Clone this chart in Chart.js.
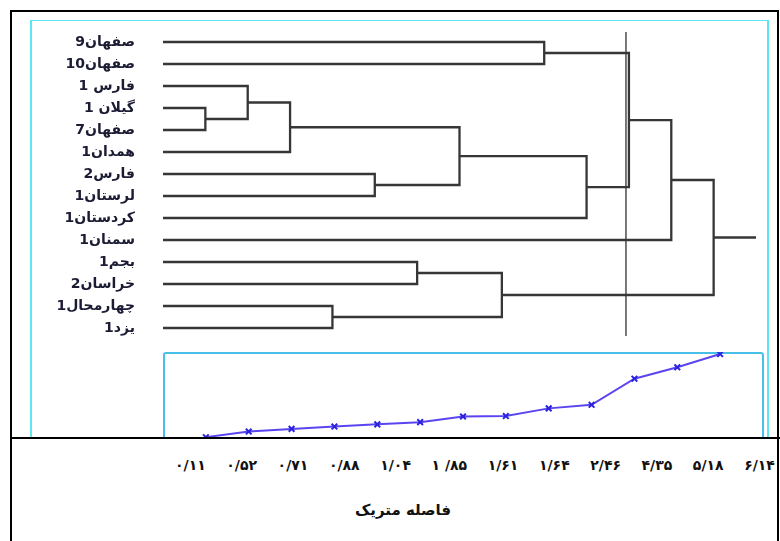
<!DOCTYPE html>
<html lang="fa">
<head>
<meta charset="utf-8">
<script src="https://cdn.jsdelivr.net/npm/chart.js@4.4.1/dist/chart.umd.min.js"></script>
<style>
  html, body { margin: 0; padding: 0; background: #fff; }
  #page { position: relative; width: 780px; height: 541px; overflow: hidden; font-family: "DejaVu Sans", sans-serif; }
  .abs { position: absolute; box-sizing: border-box; }
  #frame { left: 10px; top: 10px; width: 769px; height: 600px; border: 2px solid #000; }
  #hline { left: 10px; top: 437px; width: 770px; height: 2px; background: #000; z-index: 5; }
  #cyan { left: 30px; top: 20px; width: 739px; height: 418px; border: 2px solid #5ee6ef; border-bottom: none; border-top-width: 1.5px; }
  #dendro { left: 31px; top: 10px; }
  #lowclip { left: 0; top: 350px; width: 780px; height: 88px; overflow: hidden; }
  #lowbox { left: 163px; top: 2px; width: 601px; height: 120px; border: 2px solid #48bfe9; border-radius: 3px; }
  #steps { left: 31px; top: 2px; }
  #ticks { left: 175px; top: 457px; width: 600px; display: flex; justify-content: space-between; direction: ltr;
           font-size: 14px; font-weight: bold; color: #111; }
  #title { left: 303px; top: 501px; width: 200px; text-align: center; direction: rtl;
           font-size: 15px; font-weight: bold; color: #111; }
</style>
</head>
<body>
<div id="page">
  <div id="frame" class="abs"></div>
  <div id="cyan" class="abs"></div>
  <canvas id="dendro" class="abs" width="735" height="340"></canvas>
  <div id="lowclip" class="abs">
    <div id="lowbox" class="abs"></div>
    <canvas id="steps" class="abs" width="735" height="86"></canvas>
  </div>
  <div id="hline" class="abs"></div>
  <div id="ticks" class="abs"></div>
  <div id="title" class="abs"></div>
</div>
<script>
// leaves, top to bottom
const leafNames = ['صفهان9', 'صفهان10', 'فارس 1', 'گیلان 1', 'صفهان7', 'همدان1', 'فارس2',
  'لرستان1', 'کردستان1', 'سمنان1', 'بجم1', 'خراسان2', 'چهارمحال1', 'یزد1'];

// merge order: leaves are nodes 0..13, merge k makes node 14 + k
const mergePairs = [[3, 4], [2, 14], [15, 5], [12, 13], [6, 7], [10, 11], [16, 18],
  [19, 17], [0, 1], [20, 8], [22, 23], [24, 9], [25, 21]];

// distance at each merge step (lower plot)
const stepDistances = [0.11, 0.52, 0.71, 0.88, 1.04, 1.2, 1.61, 1.64, 2.2, 2.46, 4.35, 5.18, 6.14];

const distanceTickLabels = ['۰/۱۱', '۰/۵۲', '۰/۷۱', '۰/۸۸', '۱/۰۴', '۱ /۸۵', '۱/۶۱', '۱/۶۴',
  '۲/۴۶', '۴/۳۵', '۵/۱۸', '۶/۱۴'];

const axisTitle = 'فاصله متریک';
const cutStep = 9.93;

// build the bracket polylines
const nodeX = leafNames.map(() => -1);
const nodeY = leafNames.map((_, i) => i);
const links = [];
mergePairs.forEach(([a, b], k) => {
  links.push([
    { x: nodeX[a], y: nodeY[a] }, { x: k, y: nodeY[a] },
    { x: k, y: nodeY[b] }, { x: nodeX[b], y: nodeY[b] }
  ]);
  nodeX.push(k);
  nodeY.push((nodeY[a] + nodeY[b]) / 2);
});
const root = nodeX.length - 1;
links.push([{ x: nodeX[root], y: nodeY[root] }, { x: mergePairs.length, y: nodeY[root] }]);

const linkSets = links.map(pts => ({
  data: pts, showLine: true, borderColor: '#363636', borderWidth: 2.3,
  pointRadius: 0, tension: 0, fill: false
}));
linkSets.push({
  data: [{ x: cutStep, y: -0.45 }, { x: cutStep, y: 13.36 }],
  showLine: true, borderColor: '#666', borderWidth: 1, pointRadius: 0
});

new Chart(document.getElementById('dendro'), {
  type: 'scatter',
  data: { datasets: linkSets },
  options: {
    responsive: false,
    animation: false,
    layout: { autoPadding: false, padding: { top: 10, right: 10, bottom: 0, left: 0 } },
    plugins: { legend: { display: false }, tooltip: { enabled: false } },
    scales: {
      x: { type: 'linear', display: false, min: -1, max: 13 },
      y: {
        type: 'linear', min: -1, max: 14, reverse: true,
        grid: { display: false, drawTicks: false },
        border: { display: false },
        afterBuildTicks: s => { s.ticks = leafNames.map((_, i) => ({ value: i })); },
        afterFit: s => { s.width = 132; s.paddingTop = 0; s.paddingBottom = 0; },
        ticks: {
          padding: 28, autoSkip: false, color: '#1b1b33',
          font: { family: 'DejaVu Sans', size: 14, weight: 'bold' },
          callback: v => leafNames[v] ?? ''
        }
      }
    }
  }
});

new Chart(document.getElementById('steps'), {
  type: 'scatter',
  data: {
    datasets: [{
      data: stepDistances.map((v, i) => ({ x: i, y: v })),
      showLine: true, borderColor: '#5b45f0', borderWidth: 2,
      pointStyle: 'crossRot', pointRadius: 4, pointBorderWidth: 2,
      pointBorderColor: '#2a22e0', pointBackgroundColor: '#2a22e0'
    }]
  },
  options: {
    responsive: false,
    animation: false,
    layout: { autoPadding: false, padding: { top: 0, right: 3, bottom: 0, left: 132 } },
    plugins: { legend: { display: false }, tooltip: { enabled: false } },
    scales: {
      x: { type: 'linear', display: false, min: -1, max: 13 },
      y: { type: 'linear', display: false, min: 0.05, max: 6.29 }
    }
  }
});

const tickBox = document.getElementById('ticks');
distanceTickLabels.forEach(t => {
  const s = document.createElement('span');
  s.textContent = t;
  tickBox.appendChild(s);
});
document.getElementById('title').textContent = axisTitle;
</script>
</body>
</html>
